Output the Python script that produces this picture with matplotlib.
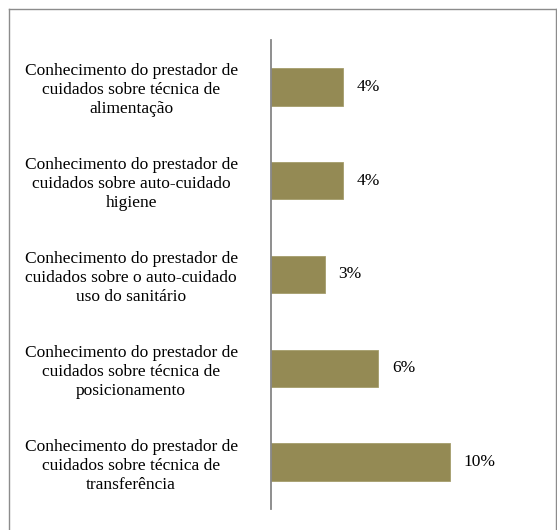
import matplotlib.pyplot as plt
from matplotlib.lines import Line2D

categorias = [
    "Conhecimento do prestador de\ncuidados sobre técnica de\nalimentação",
    "Conhecimento do prestador de\ncuidados sobre auto-cuidado\nhigiene",
    "Conhecimento do prestador de\ncuidados sobre o auto-cuidado\nuso do sanitário",
    "Conhecimento do prestador de\ncuidados sobre técnica de\nposicionamento",
    "Conhecimento do prestador de\ncuidados sobre técnica de\ntransferência",
]
valores = [4, 4, 3, 6, 10]
rotulos = ["4%", "4%", "3%", "6%", "10%"]

plt.rcParams['font.family'] = ['Liberation Serif', 'DejaVu Serif']

fig = plt.figure(figsize=(5.57, 5.30), dpi=100)
W, H = 557, 530
ax = fig.add_axes([271 / W, (H - 509) / H, (545 - 271) / W, (509 - 40) / H])

pos = list(range(len(categorias)))
barras = ax.barh(pos, valores, height=0.4, color="#948A54", edgecolor="#A59D6C", linewidth=0.6)
ax.set_ylim(len(categorias) - 0.5, -0.5)
ax.set_xlim(0, (545 - 271) / 17.9)

ax.set_yticks(pos)
ax.set_yticklabels(categorias, fontsize=12.5, multialignment="center", linespacing=1.25)
ax.tick_params(axis="y", length=0, pad=24)
ax.set_xticks([])

for s in ["top", "right", "bottom"]:
    ax.spines[s].set_visible(False)
ax.spines["left"].set_color("#868686")
ax.spines["left"].set_linewidth(1.3)

for b, r in zip(barras, rotulos):
    ax.annotate(r, (b.get_width(), b.get_y() + b.get_height() / 2),
                xytext=(10, 0), textcoords="offset points",
                ha="left", va="center", fontsize=12.5)

# moldura
x0, y0, x1 = 9 / W, 1 - 9 / H, 555.5 / W
for xs, ys in [([x0, x0], [0, y0]), ([x0, x1], [y0, y0]), ([x1, x1], [y0, 0])]:
    fig.add_artist(Line2D(xs, ys, transform=fig.transFigure, color="#8C8C8C", linewidth=1))

fig.savefig("out.png", dpi=100)
